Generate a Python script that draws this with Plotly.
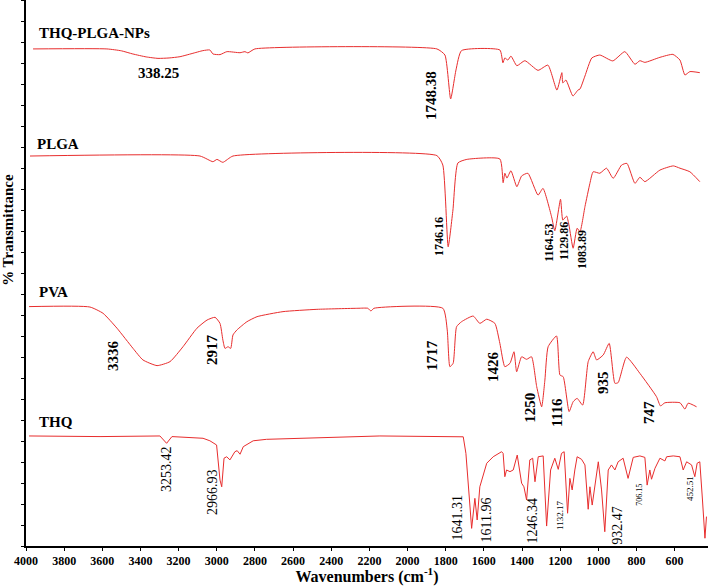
import plotly.graph_objects as go

# ---------------- data (wavenumber cm-1, offset transmittance units) ----------------
nps_wn = [3963, 3576, 3500, 3440, 3370, 3308, 3250, 3193, 3130, 3072, 3036, 3020, 2983, 2947, 2878, 2852, 2837, 2800,
          1846, 1804, 1774, 1746, 1717, 1516, 1500, 1490, 1474, 1458, 1427, 1385, 1316, 1264,
          1217, 1191, 1186, 1170, 1133, 1107, 1096, 1070, 1034, 992, 924, 861, 808, 782, 756,
          677, 609, 572, 546, 520, 468]
nps_t = [23.67, 23.67, 23.58, 23.43, 23.29, 23.22, 23.24, 23.30, 23.45, 23.59, 23.62, 23.43, 23.40, 23.54, 23.49, 23.54, 23.48, 23.67,
         23.67, 23.38, 21.29, 22.67, 23.59, 23.62, 23.01, 23.24, 23.14, 23.33, 22.87, 23.11, 22.65, 22.90,
         21.71, 22.54, 22.05, 22.19, 21.43, 21.71, 21.76, 22.38, 23.24, 23.38, 23.10, 23.54, 22.94, 23.11, 23.03,
         23.27, 23.41, 23.14, 22.43, 22.59, 22.54]

plga_wn = [3979, 3088, 3020, 2999, 2968, 2915, 1846, 1815, 1787, 1762, 1736, 1689, 1516, 1499, 1490,
           1479, 1458, 1427, 1402, 1369, 1316, 1290, 1245, 1228, 1198, 1186, 1166, 1154, 1132, 1111,
           1096, 1070, 1044, 1027, 992, 957, 922, 878, 850, 808, 782, 756, 677, 607, 572, 520, 468]
plga_t = [18.57, 18.57, 18.30, 18.41, 18.27, 18.57, 18.59, 18.14, 14.25, 16.00, 18.24, 18.41, 18.43, 17.30, 17.75,
          17.52, 17.87, 17.11, 17.62, 17.75, 16.71, 17.03, 15.68, 15.01, 16.51, 15.52, 15.71, 15.29, 14.18, 15.13,
          14.97, 16.16, 17.27, 17.82, 17.75, 17.99, 17.51, 18.14, 18.22, 17.27, 17.56, 17.35, 17.90, 18.10, 17.99, 17.82, 17.35]

pva_wn = [3984, 3665, 3596, 3523, 3439, 3387, 3313, 3245, 3177, 3104, 3051, 3009, 2983, 2968, 2957,
          2941, 2927, 2915, 2894, 2842, 2789, 2653, 2475, 2260, 2208, 2192, 2176, 1815, 1792, 1778,
          1761, 1743, 1717, 1656, 1621, 1585, 1542, 1516, 1490, 1463, 1442, 1428, 1402, 1376, 1350,
          1323, 1297, 1280, 1263, 1219, 1201, 1184, 1153, 1132, 1111, 1082, 1053, 1027, 1009, 974,
          943, 913, 896, 852, 782, 695, 674, 651, 572, 546, 529, 485]
pva_t = [11.40, 11.38, 11.08, 10.37, 9.41, 8.86, 8.59, 8.78, 9.49, 10.37, 10.76, 10.89, 10.60, 9.81, 9.41,
         9.49, 9.41, 10.05, 10.29, 10.68, 10.92, 11.16, 11.27, 11.32, 11.32, 11.19, 11.32, 11.32, 10.29, 8.54,
         8.70, 10.44, 10.68, 10.95, 10.60, 10.80, 10.60, 9.65, 8.54, 8.70, 9.25, 8.30, 9.01, 8.89, 9.01,
         7.59, 6.63, 7.90, 9.49, 10.00, 8.14, 8.06, 6.40, 6.87, 7.03, 6.71, 8.78, 9.25, 8.86, 9.10,
         9.65, 7.75, 7.78, 8.99, 8.22, 7.11, 6.67, 6.82, 6.82, 6.52, 6.80, 6.63]

thq_wn = [3984, 3612, 3298, 3263, 3235, 3072, 3036, 3001, 2983, 2974, 2962, 2948, 2931, 2905, 2893,
          2878, 2861, 2809, 2739, 2407, 2145, 1708, 1694, 1664, 1647, 1635, 1621, 1585, 1551, 1507,
          1499, 1490, 1481, 1463, 1446, 1425, 1402, 1390, 1376, 1359, 1344, 1332, 1315, 1289, 1271,
          1250, 1228, 1210, 1193, 1179, 1161, 1149, 1137, 1123, 1111, 1088, 1070, 1053, 1044, 1032,
          1018, 1000, 983, 966, 948, 931, 913, 896, 870, 844, 817, 782, 756, 744, 730, 721, 703, 677,
          651, 642, 607, 572, 555, 537, 511, 494, 482, 468, 454, 441, 433]
thq_t = [5.24, 5.21, 5.24, 4.89, 5.21, 5.13, 5.01, 4.81, 3.14, 2.82, 4.18, 4.25, 4.10, 4.49, 4.54,
         4.37, 4.73, 5.01, 5.08, 5.17, 5.24, 5.20, 4.41, 0.84, 2.27, 1.24, 2.82, 3.94, 4.25, 4.49,
         4.41, 3.30, 3.62, 3.54, 3.62, 4.33, 2.99, 2.82, 2.19, 4.10, 4.18, 3.06, 4.25, 4.29, 0.95,
         3.62, 4.18, 3.65, 4.41, 4.49, 1.56, 3.22, 2.67, 3.62, 4.25, 4.13, 3.86, 1.75, 2.82, 1.95,
         2.90, 4.01, 2.67, 0.68, 3.62, 3.86, 3.62, 4.01, 4.18, 3.22, 4.22, 4.29, 4.22, 2.90, 3.62, 3.18, 3.70, 4.18,
         4.05, 4.25, 4.29, 4.25, 3.62, 4.01, 3.86, 3.30, 3.94, 4.01, 2.19, 0.37, 1.40]

series_names = ["THQ-PLGA-NPs", "PLGA", "PVA", "THQ"]
x_ticks = [4000, 3800, 3600, 3400, 3200, 3000, 2800, 2600, 2400, 2200, 2000,
           1800, 1600, 1400, 1200, 1000, 800, 600]

# peak labels: (text, wn, t, size, bold, rotated)
peak_labels = [
    ("338.25", 3303, 22.52, 15, True, False),
    ("1748.38", 1877, 21.43, 15, True, True),
    ("1746.16", 1835, 14.71, 12, True, True),
    ("1164.53", 1259, 14.43, 12, True, True),
    ("1129.86", 1180, 14.52, 12, True, True),
    ("1083.89", 1086, 14.14, 12, True, True),
    ("3336", 3544, 9.10, 15, True, True),
    ("2917", 3025, 9.33, 15, True, True),
    ("1717", 1872, 9.10, 15, True, True),
    ("1426", 1552, 8.52, 15, True, True),
    ("1250", 1359, 6.57, 15, True, True),
    ("1116", 1217, 6.38, 15, True, True),
    ("935", 976, 7.81, 15, True, True),
    ("747", 735, 6.38, 15, True, True),
    ("3253.42", 3261, 3.67, 14, False, True),
    ("2966.93", 3025, 2.57, 14, False, True),
    ("1641.31", 1741, 1.36, 14, False, True),
    ("1611.96", 1584, 1.26, 14, False, True),
    ("1246.34", 1343, 1.21, 14, False, True),
    ("1132.17", 1201, 1.48, 9, False, True),
    ("932.47", 903, 1.00, 14, False, True),
    ("706.15", 782, 2.43, 8, False, True),
    ("452.51", 520, 2.76, 9, False, True),
]
name_label_pos = [(3942, 24.43), (3953, 19.14), (3942, 12.10), (3942, 5.90)]

SERIF = "Liberation Serif, Times New Roman, serif"
RED = "rgb(232,45,45)"

fig = go.Figure()
for wn, t, nm, shape in [(nps_wn, nps_t, series_names[0], "spline"),
                         (plga_wn, plga_t, series_names[1], "spline"),
                         (pva_wn, pva_t, series_names[2], "spline"),
                         (thq_wn, thq_t, series_names[3], "linear")]:
    fig.add_trace(go.Scatter(x=wn, y=t, mode="lines", name=nm,
                             line=dict(color=RED, width=1, shape=shape, smoothing=0.5),
                             showlegend=False))

annotations = []
for nm, (ax, ay) in zip(series_names, name_label_pos):
    annotations.append(dict(x=ax, y=ay, xref="x", yref="y", text=nm, showarrow=False,
                            xanchor="left", yanchor="middle",
                            font=dict(family=SERIF, size=15, color="black", weight="bold")))
for txt, ax, ay, sz, bold, rot in peak_labels:
    annotations.append(dict(x=ax, y=ay, xref="x", yref="y", text=txt, showarrow=False,
                            textangle=-90 if rot else 0, xanchor="center", yanchor="middle",
                            font=dict(family=SERIF, size=sz, color="black",
                                      weight="bold" if bold else "normal")))
annotations.append(dict(x=-0.0264, y=0.579, xref="paper", yref="paper", text="% Transmittance",
                        showarrow=False, textangle=-90, xanchor="center", yanchor="middle",
                        font=dict(family=SERIF, size=15, color="black", weight="bold")))

fig.update_layout(
    width=708, height=586,
    margin=dict(l=26, r=0, t=0, b=40),
    paper_bgcolor="white", plot_bgcolor="white",
    annotations=annotations,
    xaxis=dict(range=[4000, 425], tickvals=x_ticks, ticktext=[str(v) for v in x_ticks],
               showline=True, linecolor="black", linewidth=1.5, ticks="outside", ticklen=3,
               tickcolor="black", showgrid=False, zeroline=False,
               tickfont=dict(family=SERIF, size=12, color="black", weight="bold"),
               title=dict(text="Wavenumbers (cm<sup>-1</sup>)", standoff=4,
                          font=dict(family=SERIF, size=16, color="black", weight="bold"))),
    yaxis=dict(range=[0, 26], dtick=1, showticklabels=False, showline=True, linecolor="black",
               linewidth=1.5, ticks="outside", ticklen=3, tickcolor="black", showgrid=False,
               zeroline=False),
)

fig.write_html("out.html", config={"displayModeBar": False},
               post_script="document.body.style.margin='0';document.body.style.overflow='hidden';")
